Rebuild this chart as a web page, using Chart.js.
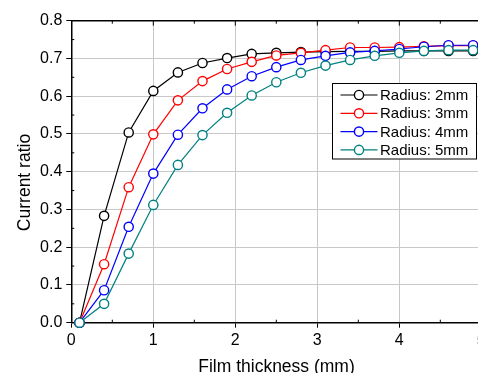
<!DOCTYPE html>
<html>
<head>
<meta charset="utf-8">
<script src="https://cdn.jsdelivr.net/npm/chart.js"></script>
<style>
  html, body { margin: 0; padding: 0; background: #fff; overflow: hidden; }
  #wrap { width: 500px; height: 373px; }
</style>
</head>
<body>
<div id="wrap"><canvas id="c" width="500" height="373"></canvas></div>
<script>
const thickness = [0.1, 0.4, 0.7, 1.0, 1.3, 1.6, 1.9, 2.2, 2.5, 2.8, 3.1, 3.4, 3.7, 4.0, 4.3, 4.6, 4.9];
const radius2mm = [0.0, 0.283, 0.504, 0.614, 0.663, 0.688, 0.701, 0.712, 0.715, 0.717, 0.718, 0.719, 0.719, 0.720, 0.720, 0.720, 0.720];
const radius3mm = [0.0, 0.155, 0.359, 0.499, 0.589, 0.640, 0.672, 0.691, 0.708, 0.715, 0.722, 0.729, 0.729, 0.730, 0.732, 0.734, 0.734];
const radius4mm = [0.0, 0.086, 0.254, 0.395, 0.498, 0.568, 0.618, 0.653, 0.677, 0.696, 0.707, 0.716, 0.720, 0.725, 0.731, 0.735, 0.735];
const radius5mm = [0.0, 0.050, 0.183, 0.312, 0.418, 0.497, 0.556, 0.602, 0.637, 0.662, 0.681, 0.696, 0.707, 0.715, 0.720, 0.722, 0.722];
const seriesNames = ['Radius: 2mm', 'Radius: 3mm', 'Radius: 4mm', 'Radius: 5mm'];
const seriesColors = ['#000000', '#ff0000', '#0000ff', '#008080'];
const seriesValues = [radius2mm, radius3mm, radius4mm, radius5mm];
const xTitle = 'Film thickness (mm)';
const yTitle = 'Current ratio';

const FONT = '"Liberation Sans", Arial, sans-serif';

const datasets = seriesValues.map((vals, i) => ({
  label: seriesNames[i],
  data: vals.map((v, j) => ({ x: thickness[j], y: v })),
  borderColor: seriesColors[i],
  backgroundColor: '#ffffff',
  pointBackgroundColor: '#ffffff',
  pointBorderColor: seriesColors[i],
  pointRadius: 4.6,
  pointBorderWidth: 1.4,
  borderWidth: 1.2,
  tension: 0,
  clip: false,
  order: seriesValues.length - i
}));

// frame, minor ticks, axis titles and the boxed legend
const framePlugin = {
  id: 'frame',
  afterDraw(chart) {
    const { ctx, chartArea: a, scales: { x, y } } = chart;
    ctx.save();
    ctx.strokeStyle = '#000';
    ctx.lineWidth = 1.5;
    ctx.beginPath();
    ctx.moveTo(a.left, a.top); ctx.lineTo(a.right, a.top);
    ctx.moveTo(a.right, a.top); ctx.lineTo(a.right, a.bottom);
    ctx.stroke();
    ctx.lineWidth = 1;
    ctx.beginPath();
    for (let v = 0.5; v < 5; v += 1) {
      const px = x.getPixelForValue(v);
      ctx.moveTo(px, a.bottom); ctx.lineTo(px, a.bottom - 3);
      ctx.moveTo(px, a.top); ctx.lineTo(px, a.top + 3);
    }
    for (let v = 0.05; v < 0.8; v += 0.1) {
      const py = y.getPixelForValue(v);
      ctx.moveTo(a.left, py); ctx.lineTo(a.left + 3, py);
      ctx.moveTo(a.right, py); ctx.lineTo(a.right - 3, py);
    }
    for (let v = 1; v < 5; v += 1) {
      const px = x.getPixelForValue(v);
      ctx.moveTo(px, a.top); ctx.lineTo(px, a.top + 5);
    }
    ctx.stroke();

    // axis titles
    ctx.fillStyle = '#000';
    ctx.font = '17.5px ' + FONT;
    ctx.textAlign = 'center';
    ctx.textBaseline = 'alphabetic';
    ctx.fillText(xTitle, 276.5, 371.5);
    ctx.save();
    ctx.translate(29.5, 182.5);
    ctx.rotate(-Math.PI / 2);
    ctx.fillText(yTitle, 0, 0);
    ctx.restore();

    // legend
    const bx = 332.5, by = 83.5, bw = 144, bh = 75.5;
    ctx.fillStyle = '#fff';
    ctx.fillRect(bx, by, bw, bh);
    ctx.strokeStyle = '#000';
    ctx.lineWidth = 1;
    ctx.strokeRect(bx, by, bw, bh);
    ctx.font = '15px ' + FONT;
    ctx.textBaseline = 'middle';
    ctx.textAlign = 'left';
    chart.data.datasets.forEach((ds, i) => {
      const ry = 95 + i * 18.3;
      ctx.strokeStyle = ds.borderColor;
      ctx.lineWidth = 1.2;
      ctx.beginPath();
      ctx.moveTo(340.5, ry); ctx.lineTo(377.5, ry);
      ctx.stroke();
      ctx.beginPath();
      ctx.arc(359, ry, 4.6, 0, Math.PI * 2);
      ctx.fillStyle = '#fff';
      ctx.fill();
      ctx.lineWidth = 1.4;
      ctx.stroke();
      ctx.fillStyle = '#000';
      ctx.fillText(ds.label, 380, ry + 1);
    });
    ctx.restore();
  }
};

new Chart(document.getElementById('c'), {
  type: 'line',
  data: { datasets },
  options: {
    responsive: false,
    animation: false,
    layout: { padding: { top: 20.7, right: 18.7, left: 0, bottom: 0 } },
    plugins: { legend: { display: false }, tooltip: { enabled: false } },
    scales: {
      x: {
        type: 'linear',
        min: 0, max: 5,
        ticks: { stepSize: 1, color: '#000', font: { family: FONT, size: 16 }, padding: 3, maxRotation: 0 },
        grid: { color: '#c8c8c8', lineWidth: 1, tickColor: '#000', tickLength: 5 },
        border: { color: '#000', width: 1.5 },
        afterFit(s) { s.height = 50.3; }
      },
      y: {
        min: 0, max: 0.8,
        ticks: { stepSize: 0.1, color: '#000', font: { family: FONT, size: 16 }, padding: 4, callback: v => v.toFixed(1) },
        grid: { color: '#c8c8c8', lineWidth: 1, tickColor: '#000', tickLength: 5 },
        border: { color: '#000', width: 1.5 },
        afterFit(s) { s.width = 71.3; }
      }
    }
  },
  plugins: [framePlugin]
});
</script>
</body>
</html>
